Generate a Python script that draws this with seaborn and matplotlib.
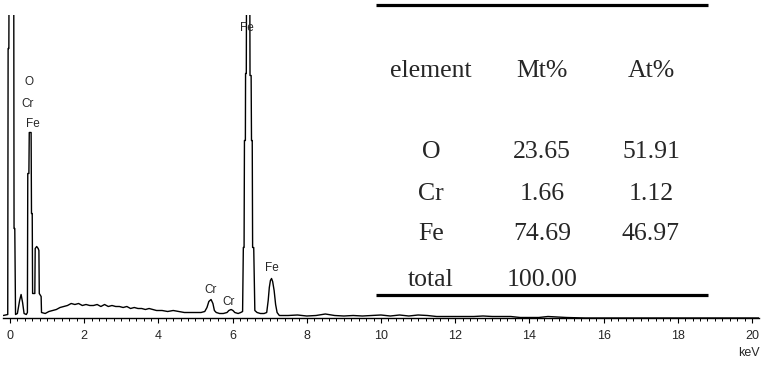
import matplotlib
matplotlib.use("Agg")
import matplotlib.pyplot as plt
import seaborn as sns
import pandas as pd

# spectrum (energy in keV, counts, arbitrary units)
energy_kev = [
    -0.18, -0.06, -0.05, -0.03, -0.02, 0.10, 0.11, 0.13, 0.15, 0.20,
    0.26, 0.30, 0.34, 0.38, 0.44, 0.47, 0.48, 0.51, 0.52, 0.57,
    0.58, 0.60, 0.61, 0.67, 0.68, 0.72, 0.76, 0.78, 0.79, 0.84,
    0.85, 0.95, 1.05, 1.15, 1.25, 1.35, 1.45, 1.55, 1.65, 1.75,
    1.85, 1.95, 2.05, 2.15, 2.25, 2.35, 2.45, 2.55, 2.65, 2.75,
    2.85, 2.95, 3.05, 3.15, 3.25, 3.35, 3.45, 3.55, 3.65, 3.75,
    3.85, 3.95, 4.10, 4.25, 4.40, 4.55, 4.70, 4.85, 5.00, 5.15,
    5.25, 5.31, 5.36, 5.42, 5.47, 5.51, 5.56, 5.65, 5.75, 5.85,
    5.90, 5.96, 6.01, 6.06, 6.15, 6.22, 6.27, 6.29, 6.31, 6.32,
    6.345, 6.35, 6.37, 6.38, 6.46, 6.47, 6.50, 6.51, 6.53, 6.54,
    6.57, 6.60, 6.66, 6.75, 6.85, 6.92, 6.96, 6.99, 7.02, 7.05,
    7.08, 7.12, 7.16, 7.20, 7.26, 7.50, 7.75, 8.00, 8.25, 8.50,
    8.75, 9.00, 9.25, 9.50, 9.75, 10.00, 10.25, 10.50, 10.75, 11.00,
    11.25, 11.50, 11.75, 12.00, 12.25, 12.50, 12.75, 13.00, 13.25, 13.50,
    13.75, 14.00, 14.25, 14.50, 14.75, 15.00, 15.50, 16.00, 17.00, 18.00,
    19.00, 20.20,
]
counts = [
    3, 4, 270, 270, 400, 400, 90, 90, 4, 5,
    18, 24, 16, 5, 4, 6, 145, 145, 186, 186,
    105, 105, 25, 25, 70, 72, 70, 68, 25, 22,
    6, 5, 7, 8, 9, 11, 12, 13, 15, 14,
    15, 13, 14, 13, 13, 14, 12, 14, 12, 13,
    12, 12, 11, 12, 10, 11, 10, 10, 9, 10,
    9, 8, 8, 7, 8, 7, 6, 6, 6, 6,
    7, 11, 17, 19, 15, 8, 6, 5, 5, 6,
    8, 9, 8, 6, 5, 6, 7, 71, 71, 178,
    178, 245, 245, 400, 400, 243, 243, 178, 178, 71,
    71, 8, 6, 5, 5, 6, 18, 31, 38, 40,
    37, 28, 14, 6, 3, 3, 3.5, 2.5, 3, 4.5,
    3, 2.5, 3, 2.5, 3, 3.5, 2.5, 3.5, 2.5, 3.5,
    3, 2, 2, 2, 2, 2, 2.5, 2, 2, 2,
    1, 1, 1, 2, 1.5, 1, 0.5, 0.5, 0.5, 0.5,
    0.5, 0.5,
]

# peak labels
peak_names = ["O", "Cr", "Fe", "Fe", "Cr", "Cr", "Fe"]
peak_kev = [0.52, 0.47, 0.62, 6.39, 5.42, 5.90, 7.05]
peak_label_y = [237, 215, 195, 291, 28, 16, 50]

# composition table
table_header = ["element", "Mt%", "At%"]
table_elements = ["O", "Cr", "Fe", "total"]
mass_pct = ["23.65", "1.66", "74.69", "100.00"]
atom_pct = ["51.91", "1.12", "46.97", ""]

sns.set_style("white")
plt.rcParams["font.family"] = ["Liberation Sans", "DejaVu Sans"]

df = pd.DataFrame({"keV": energy_kev, "counts": counts})

fig = plt.figure(figsize=(7.65, 3.65), dpi=100)
ax = fig.add_axes([0.0043, 0.1274, 0.9884, 0.8315])
sns.lineplot(data=df, x="keV", y="counts", sort=False, estimator=None,
             color="black", lw=1.0, ax=ax)
ax.set_xlim(-0.18, 20.2)
ax.set_ylim(0, 303.5)
ax.set_xticks(range(0, 21, 2))
ax.set_xticks([i * 0.2 for i in range(0, 101)], minor=True)
ax.set_yticks([])
ax.set_xlabel("")
ax.set_ylabel("")
for s in ["left", "right", "top"]:
    ax.spines[s].set_visible(False)
ax.spines["bottom"].set_linewidth(1.0)
ax.spines["bottom"].set_color("black")
ax.tick_params(axis="x", which="major", direction="out", length=3.3, width=0.8,
               pad=5, labelsize=9, color="black", bottom=True)
ax.tick_params(axis="x", which="minor", direction="out", length=2.2, width=0.7,
               color="black", bottom=True)
ax.patch.set_alpha(0)

for name, xk, yl in zip(peak_names, peak_kev, peak_label_y):
    ax.text(xk, yl, name, ha="center", va="center", fontsize=8.5, clip_on=False)

ax.text(1.0, -0.115, "keV", transform=ax.transAxes, ha="right", va="center",
        fontsize=9)

# table overlay in pixel coordinates
tab = fig.add_axes([0, 0, 1, 1])
tab.set_xlim(0, 765)
tab.set_ylim(365, 0)
tab.axis("off")
tab.patch.set_alpha(0)
serif = ["Liberation Serif", "DejaVu Serif"]
col_x = [431, 542, 651]
tab.plot([376, 708], [4.7, 4.7], color="black", lw=2.3, solid_capstyle="butt")
tab.plot([376, 708], [295, 295], color="black", lw=2.3, solid_capstyle="butt")
for cx, h in zip(col_x, table_header):
    tab.text(cx, 77, h, ha="center", va="baseline", fontsize=18.5, family=serif)
row_y = [158.5, 200, 240.5, 286]
for ry, el, m, a in zip(row_y, table_elements, mass_pct, atom_pct):
    tab.text(col_x[0], ry, el, ha="center", va="baseline", fontsize=18.5, family=serif)
    tab.text(col_x[1], ry, m, ha="center", va="baseline", fontsize=18.5, family=serif)
    tab.text(col_x[2], ry, a, ha="center", va="baseline", fontsize=18.5, family=serif)

fig.savefig("out.png", dpi=100)
